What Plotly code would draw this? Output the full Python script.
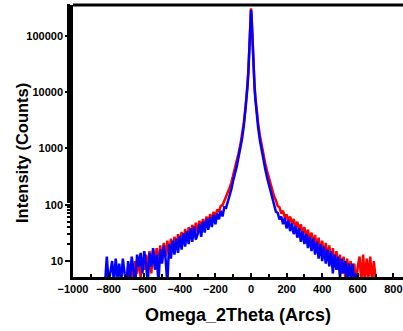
import plotly.graph_objects as go

# ---- data ----
blue_left_x = list(range(-820, -100, 10))
blue_left_y = [4, 12, 4, 6, 10, 4, 11, 5, 9, 4, 11, 6, 4, 10, 5, 12, 7, 4, 13, 8,
               14, 6, 15, 9, 4, 14, 8, 17, 7, 13, 4, 16, 9, 19, 11, 4, 20, 11, 23, 13,
               25, 14, 28, 16, 31, 18, 34, 20, 38, 22, 41, 24, 30, 45, 27, 50, 32, 56, 36, 60,
               40, 66, 45, 70, 55, 78, 62, 90, 88, 112, 140, 190]
center_x = [-100, -90, -80, -70, -60, -50, -40, -30, -25, -20, -15, -10, -7, -5, -3, 0,
            3, 5, 7, 10, 15, 20, 25, 30, 40, 50, 60, 70, 80, 90, 100]
blue_center_y = [270, 350, 480, 700, 1000, 1500, 2600, 5000, 7500, 12000, 22000, 50000, 90000,
                 140000, 210000, 290000, 220000, 150000, 95000, 52000, 23000, 12000, 7300, 4800,
                 2400, 1400, 900, 620, 430, 310, 230]
blue_right_x = list(range(110, 610, 10))
blue_right_y = [170, 125, 98, 75, 72, 55, 62, 45, 58, 38, 52, 34, 47, 30, 42, 26, 38, 22, 34, 20,
                30, 17, 27, 15, 25, 13, 22, 11, 20, 10, 18, 9, 16, 8, 15, 6, 13, 7, 12, 5,
                11, 6, 10, 4, 9, 5, 9, 4, 6, 3]

red_left_x = list(range(-700, -100, 10))
red_left_y = [3, 8, 4, 9, 4, 10, 6, 12, 5, 11, 7, 13, 8, 15, 6, 16, 9, 17, 8, 19,
              10, 21, 12, 23, 13, 25, 15, 27, 16, 30, 18, 33, 21, 37, 23, 40, 26, 44, 29, 48,
              32, 52, 36, 56, 40, 62, 46, 68, 52, 75, 60, 82, 76, 95, 98, 115, 135, 160, 200, 250]
red_center_y = [330, 430, 580, 820, 1150, 1700, 2900, 5400, 8000, 12500, 23000, 52000, 95000,
                150000, 230000, 310000, 240000, 160000, 100000, 56000, 25000, 13000, 8000, 5300,
                2800, 1700, 1100, 760, 540, 400, 300]
red_right_x = list(range(110, 730, 10))
red_right_y = [230, 180, 140, 120, 95, 90, 70, 78, 58, 68, 50, 62, 45, 56, 40, 50, 34, 45, 30, 40,
               26, 36, 22, 32, 19, 29, 17, 26, 14, 23, 12, 21, 11, 19, 9, 17, 8, 15, 7, 13,
               6, 12, 5, 11, 6, 10, 4, 9, 4, 8, 12, 4, 13, 4, 11, 5, 12, 4, 10, 5, 3, 2]

y_tickvals = [10, 100, 1000, 10000, 100000]
y_ticktext = ["10", "100", "1000", "10000", "100000"]
x_tickvals = [-1000, -800, -600, -400, -200, 0, 200, 400, 600, 800]

red_x = red_left_x + center_x + red_right_x
red_y = red_left_y + red_center_y + red_right_y
blue_x = blue_left_x + center_x + blue_right_x
blue_y = blue_left_y + blue_center_y + blue_right_y

fig = go.Figure()
fig.add_trace(go.Scatter(x=red_x, y=red_y, mode="lines",
                         line=dict(color="#ff0000", width=2.5), showlegend=False))
fig.add_trace(go.Scatter(x=blue_x, y=blue_y, mode="lines",
                         line=dict(color="#0000ff", width=2.5), showlegend=False))

font_family = "Liberation Sans, Arial, sans-serif"
L, T, B, W, H = 73, 5, 54, 403, 331
fig.update_layout(
    width=W, height=H,
    margin=dict(l=L, r=0, t=T, b=B, autoexpand=False),
    paper_bgcolor="white", plot_bgcolor="white",
    font=dict(family=font_family, color="black"),
    xaxis=dict(
        range=[-1000, 854], tickvals=x_tickvals, automargin=False,
        ticks="inside", ticklen=4, tickwidth=2, tickcolor="black",
        minor=dict(ticks="inside", ticklen=3, tickwidth=2, dtick=100, tick0=0, tickcolor="black"),
        showline=True, linewidth=3, linecolor="black", showgrid=False, zeroline=False,
        tickfont=dict(size=11, family=font_family, weight="bold"),
        title=dict(text="<b>Omega_2Theta (Arcs)</b>", font=dict(size=18), standoff=15),
    ),
    yaxis=dict(
        type="log", range=[0.716, 5.55], automargin=False,
        tickvals=y_tickvals, ticktext=y_ticktext,
        ticks="outside", ticklen=5, tickwidth=2, tickcolor="black",
        minor=dict(ticks="outside", ticklen=3, tickwidth=1.5, tickcolor="black"),
        showline=True, linewidth=2.5, linecolor="black", showgrid=False, zeroline=False,
        tickfont=dict(size=11, family=font_family, weight="bold"),
    ),
    shapes=[dict(type="line", xref="paper", yref="paper", x0=0, x1=1, y0=1, y1=1,
                 line=dict(color="black", width=3))],
    annotations=[dict(text="<b>Intensity (Counts)</b>", textangle=-90,
                      xref="paper", yref="paper",
                      x=(22 - L) / (W - L), y=(H - B - 153) / (H - B - T),
                      xanchor="center", yanchor="middle", showarrow=False,
                      font=dict(size=16.5, family=font_family, color="black"))],
)

fig.write_html("out.html", config={"displayModeBar": False},
               post_script="document.body.style.margin='0';document.body.style.overflow='hidden';")
